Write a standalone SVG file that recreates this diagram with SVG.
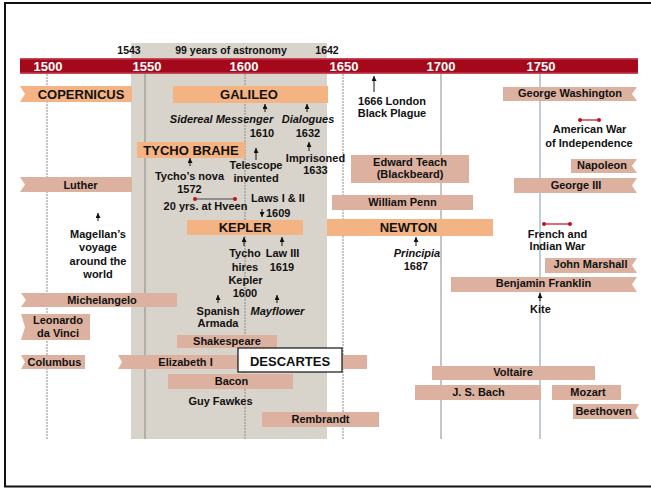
<svg xmlns="http://www.w3.org/2000/svg" width="651" height="488" viewBox="0 0 651 488">
<defs>
<marker id="ah" viewBox="0 0 6 6" refX="6" refY="3" markerWidth="5" markerHeight="5" markerUnits="userSpaceOnUse" orient="auto">
<path d="M0,0 L6,3 L0,6 z" fill="#111"/>
</marker>
<style>
text{font-family:"Liberation Sans",Arial,Helvetica,sans-serif;font-weight:bold;fill:#111;text-anchor:middle}
.s{font-size:11px}
.b{font-size:13px}
.yr{font-size:13px;fill:#fff}
.top{font-size:10.5px}
.i{font-style:italic}
.orange{fill:#f4b382}
.tan{fill:#dcb1a0}
.grid{stroke:#8c8c8c;stroke-width:1;fill:none}
.dot{stroke-dasharray:2 1}
.arr{stroke:#111;stroke-width:1;fill:none;marker-end:url(#ah)}
.span{stroke-width:1.5;fill:none}
.rd{fill:#c0101c}
</style>
</defs>
<rect x="0" y="0" width="651" height="488" fill="#fff"/>
<path d="M5,487 L5,3 L651,3" fill="none" stroke="#111" stroke-width="2"/>
<path d="M4,486.5 L651,486.5" fill="none" stroke="#111" stroke-width="2"/>

<g id="astronomy-era">
<rect x="131" y="43" width="196" height="396" fill="#d8d3cb"/>
<text class="top" x="129" y="54">1543</text>
<text class="top" x="231" y="54">99 years of astronomy</text>
<text class="top" x="327" y="54">1642</text>
</g>

<g id="grid">
<line class="grid dot" x1="47" y1="74" x2="47" y2="439"/>
<line class="grid" x1="145" y1="74" x2="145" y2="439" stroke="#555"/>
<line class="grid dot" x1="245" y1="74" x2="245" y2="439"/>
<line class="grid dot" x1="343" y1="74" x2="343" y2="439"/>
<line class="grid" x1="441" y1="74" x2="441" y2="439"/>
<line class="grid" x1="540" y1="74" x2="540" y2="439" style="stroke:#a9bcc4;stroke-width:1.5"/>
</g>

<g id="timeline-bar">
<rect x="20" y="58" width="618" height="16" fill="#a3091a"/>
<rect x="20" y="58" width="618" height="1.5" fill="#c9485a"/>
<rect x="20" y="72.5" width="618" height="1.5" fill="#c9485a"/>
<text class="yr" x="48" y="71">1500</text>
<text class="yr" x="147" y="71">1550</text>
<text class="yr" x="244" y="71">1600</text>
<text class="yr" x="344" y="71">1650</text>
<text class="yr" x="441" y="71">1700</text>
<text class="yr" x="541" y="71">1750</text>
</g>

<g id="copernicus">
<polygon class="orange" points="20,86 132,86 132,102 20,102 25,94"/>
<text class="b" x="81" y="99">COPERNICUS</text>
</g>
<g id="galileo">
<rect class="orange" x="173" y="86" width="155" height="17"/>
<text class="b" x="249" y="99">GALILEO</text>
</g>
<g id="sidereal-messenger">
<text class="s i" x="221.5" y="123">Sidereal Messenger</text>
<text class="s" x="262" y="137">1610</text>
</g>
<g id="dialogues">
<text class="s i" x="308" y="123">Dialogues</text>
<text class="s" x="308" y="137">1632</text>
</g>
<g id="imprisoned">
<text class="s" x="315.5" y="162">Imprisoned</text>
<text class="s" x="315.5" y="174">1633</text>
</g>
<g id="tycho-brahe">
<rect class="orange" x="137" y="142" width="108" height="16"/>
<text class="b" x="191" y="155">TYCHO BRAHE</text>
</g>
<g id="tychos-nova">
<text class="s" x="189.5" y="180">Tycho’s nova</text>
<text class="s" x="189.5" y="193">1572</text>
</g>
<g id="telescope">
<text class="s" x="256" y="169">Telescope</text>
<text class="s" x="256" y="182">invented</text>
</g>
<g id="hveen">
<line x1="195" y1="199" x2="235" y2="199" stroke="#777" stroke-width="1.5"/>
<circle class="rd" cx="195" cy="199" r="2"/>
<circle class="rd" cx="235" cy="199" r="2"/>
<text class="s" x="205.5" y="210">20 yrs. at Hveen</text>
</g>
<g id="laws">
<text class="s" x="278" y="202">Laws I &amp; II</text>
<text class="s" x="266" y="217" style="text-anchor:start">1609</text>
</g>
<g id="kepler">
<rect class="orange" x="187" y="220" width="116" height="15"/>
<text class="b" x="245" y="232">KEPLER</text>
</g>
<g id="tycho-hires">
<text class="s" x="245" y="257">Tycho</text>
<text class="s" x="245" y="271">hires</text>
<text class="s" x="245.5" y="284">Kepler</text>
<text class="s" x="245" y="297">1600</text>
</g>
<g id="law-iii">
<text class="s" x="282.5" y="257">Law III</text>
<text class="s" x="282" y="271">1619</text>
</g>
<g id="spanish-armada">
<text class="s" x="218" y="315">Spanish</text>
<text class="s" x="218" y="327">Armada</text>
</g>
<g id="mayflower">
<text class="s i" x="277.5" y="315">Mayflower</text>
</g>
<g id="luther">
<polygon class="tan" points="20,177 132,177 132,192 20,192 25,184.5"/>
<text class="s" x="80.5" y="189">Luther</text>
</g>
<g id="magellan">
<text class="s" x="98" y="238">Magellan’s</text>
<text class="s" x="98" y="251">voyage</text>
<text class="s" x="98" y="265">around the</text>
<text class="s" x="98" y="278">world</text>
</g>
<g id="michelangelo">
<polygon class="tan" points="21,293 177,293 177,307 21,307 26,300"/>
<text class="s" x="102" y="304">Michelangelo</text>
</g>
<g id="leonardo">
<polygon class="tan" points="21,314 90,314 90,340 21,340 25,327"/>
<text class="s" x="58" y="324">Leonardo</text>
<text class="s" x="58" y="337">da Vinci</text>
</g>
<g id="shakespeare">
<rect class="tan" x="177" y="335" width="100" height="13"/>
<text class="s" x="227" y="345">Shakespeare</text>
</g>
<g id="columbus">
<polygon class="tan" points="21,355 85,355 85,369 21,369 25,362"/>
<text class="s" x="54.5" y="366">Columbus</text>
</g>
<g id="elizabeth">
<polygon class="tan" points="118,355 240,355 240,369 118,369 122,362"/>
<text class="s" x="185.5" y="366">Elizabeth I</text>
</g>
<g id="descartes">
<rect class="tan" x="238" y="355" width="129" height="14"/>
<rect x="238" y="348" width="104" height="24" fill="#fff" stroke="#111" stroke-width="1.2"/>
<text class="b" x="290" y="366">DESCARTES</text>
</g>
<g id="bacon">
<rect class="tan" x="168" y="374" width="125" height="15"/>
<text class="s" x="231.5" y="385">Bacon</text>
</g>
<g id="guy-fawkes">
<text class="s" x="220.5" y="405">Guy Fawkes</text>
</g>
<g id="rembrandt">
<rect class="tan" x="262" y="412" width="117" height="15"/>
<text class="s" x="320.5" y="423">Rembrandt</text>
</g>
<g id="plague">
<text class="s" x="392" y="105">1666 London</text>
<text class="s" x="392" y="117">Black Plague</text>
</g>
<g id="edward-teach">
<rect class="tan" x="351" y="155" width="118" height="28"/>
<text class="s" x="410" y="166">Edward Teach</text>
<text class="s" x="410" y="178">(Blackbeard)</text>
</g>
<g id="william-penn">
<rect class="tan" x="332" y="195" width="141" height="15"/>
<text class="s" x="402.5" y="206">William Penn</text>
</g>
<g id="newton">
<rect class="orange" x="327" y="219" width="166" height="17"/>
<text class="b" x="408.5" y="232">NEWTON</text>
</g>
<g id="principia">
<text class="s i" x="417" y="257">Principia</text>
<text class="s" x="416" y="270">1687</text>
</g>
<g id="george-washington">
<polygon class="tan" points="503,87 637,87 632,94 637,101 503,101"/>
<text class="s" x="570" y="97">George Washington</text>
</g>
<g id="american-war">
<line x1="580" y1="120" x2="599" y2="120" stroke="#c0101c" stroke-width="1.2"/>
<circle class="rd" cx="580" cy="120" r="2"/>
<circle class="rd" cx="599" cy="120" r="2"/>
<text class="s" x="589.5" y="133">American War</text>
<text class="s" x="589" y="147">of Independence</text>
</g>
<g id="napoleon">
<polygon class="tan" points="571,159 637,159 632,166 637,173 571,173"/>
<text class="s" x="602" y="169">Napoleon</text>
</g>
<g id="george-iii">
<polygon class="tan" points="514,178 637,178 632,185.5 637,193 514,193"/>
<text class="s" x="576" y="189">George III</text>
</g>
<g id="french-indian-war">
<line x1="544" y1="224" x2="570" y2="224" stroke="#c0101c" stroke-width="1.2"/>
<circle class="rd" cx="544" cy="224" r="2"/>
<circle class="rd" cx="570" cy="224" r="2"/>
<text class="s" x="557.5" y="238">French and</text>
<text class="s" x="557.5" y="250">Indian War</text>
</g>
<g id="john-marshall">
<polygon class="tan" points="545,258 637,258 632,265.5 637,273 545,273"/>
<text class="s" x="590.5" y="268">John Marshall</text>
</g>
<g id="benjamin-franklin">
<polygon class="tan" points="451,277 637,277 632,284.5 637,292 451,292"/>
<text class="s" x="543.5" y="287">Benjamin Franklin</text>
</g>
<g id="kite">
<text class="s" x="540.5" y="313">Kite</text>
</g>
<g id="voltaire">
<rect class="tan" x="432" y="366" width="163" height="14"/>
<text class="s" x="513" y="376">Voltaire</text>
</g>
<g id="bach">
<rect class="tan" x="415" y="385" width="126" height="15"/>
<text class="s" x="478.5" y="396">J. S. Bach</text>
</g>
<g id="mozart">
<rect class="tan" x="552" y="385" width="69" height="15"/>
<text class="s" x="588" y="396">Mozart</text>
</g>
<g id="beethoven">
<polygon class="tan" points="573,404 639,404 635,411.5 639,419 573,419"/>
<text class="s" x="603.5" y="415">Beethoven</text>
</g>

<g id="connectors">
<line class="arr" x1="374" y1="92" x2="374" y2="76"/>
<line class="arr" x1="265" y1="112" x2="265" y2="104"/>
<line class="arr" x1="307" y1="112" x2="307" y2="104"/>
<line class="arr" x1="309" y1="151" x2="309" y2="142"/>
<line class="arr" x1="256" y1="160" x2="256" y2="148"/>
<line class="arr" x1="190" y1="166" x2="190" y2="158"/>
<line class="arr" x1="262" y1="209" x2="262" y2="217"/>
<line class="arr" x1="98" y1="221" x2="98" y2="213"/>
<line class="arr" x1="244" y1="246" x2="244" y2="237"/>
<line class="arr" x1="282" y1="246" x2="282" y2="237"/>
<line class="arr" x1="218" y1="303" x2="218" y2="295"/>
<line class="arr" x1="277" y1="303" x2="277" y2="295"/>
<line class="arr" x1="416" y1="246" x2="416" y2="237"/>
<line class="arr" x1="540" y1="301" x2="540" y2="293"/>
</g>
</svg>
